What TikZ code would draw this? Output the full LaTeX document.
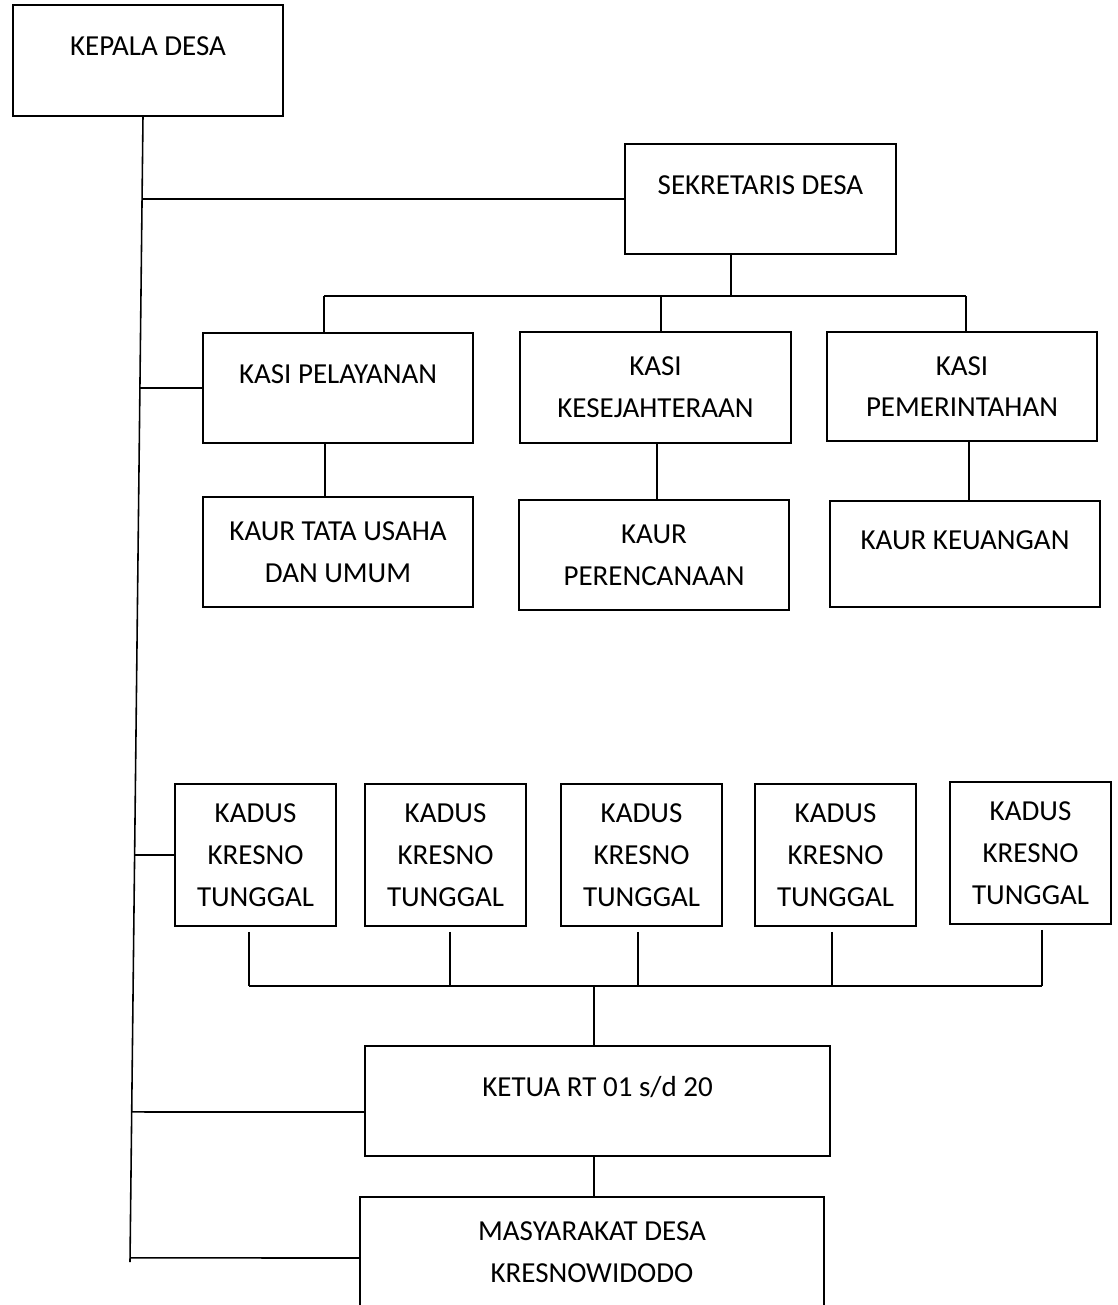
\documentclass[tikz,border=0pt]{standalone}
\usepackage{fontspec}
\setmainfont{Carlito}
\usetikzlibrary{calc}

\begin{document}
\begin{tikzpicture}[x=0.02cm,y=-0.02cm,
  box/.style={draw,line width=1.1pt,inner sep=0pt,align=center,
    font=\fontsize{16.5}{23.8}\selectfont},
  lifted/.style={text height=10.6pt,text depth=16pt},
  conn/.style={line width=0.9pt}]
\useasboundingbox (0,0) rectangle (1118,1305);
\clip (0,0) rectangle (1118,1305);

% kepala desa and the long line on the left
\node[box,lifted,minimum width=5.4cm,minimum height=2.22cm] (kades) at (148,60.5) {KEPALA DESA};
\coordinate (spinetop) at (143,116);
\coordinate (spinebot) at (130,1262);
\draw[conn] (spinetop) -- (spinebot);

% sekretaris
\node[box,lifted,minimum width=5.42cm,minimum height=2.2cm] (sekdes) at (760.5,199) {SEKRETARIS DESA};
\draw[conn] (intersection of spinetop--spinebot and sekdes.west--sekdes.east) -- (sekdes.west);

% kasi
\node[box,lifted,minimum width=5.4cm,minimum height=2.2cm] (kasia) at (338,388) {KASI PELAYANAN};
\node[box,minimum width=5.42cm,minimum height=2.22cm] (kasib) at (655.5,387.5) {KASI\\KESEJAHTERAAN};
\node[box,minimum width=5.4cm,minimum height=2.18cm] (kasic) at (962,386.5) {KASI\\PEMERINTAHAN};

\coordinate (sb) at (731,296);
\coordinate (sb1) at (324,296);
\coordinate (sb2) at (661,296);
\coordinate (sb3) at (966,296);
\draw[conn] (sekdes.south -| sb) -- (sb);
\draw[conn] (sb1) -- (sb3);
\draw[conn] (sb1) -- (sb1 |- kasia.north);
\draw[conn] (sb2) -- (sb2 |- kasib.north);
\draw[conn] (sb3) -- (sb3 |- kasic.north);
\draw[conn] (intersection of spinetop--spinebot and kasia.west--kasia.east) -- (kasia.west);

% kaur
\node[box,minimum width=5.4cm,minimum height=2.2cm] (kaura) at (338,552) {KAUR TATA USAHA\\DAN UMUM};
\node[box,minimum width=5.4cm,minimum height=2.2cm] (kaurb) at (654,555) {KAUR\\PERENCANAAN};
\node[box,lifted,minimum width=5.4cm,minimum height=2.12cm] (kaurc) at (965,554) {KAUR KEUANGAN};

\coordinate (ta) at (325,470);
\coordinate (tb) at (657,470);
\coordinate (tc) at (969,470);
\draw[conn] (kasia.south -| ta) -- (kaura.north -| ta);
\draw[conn] (kasib.south -| tb) -- (kaurb.north -| tb);
\draw[conn] (kasic.south -| tc) -- (kaurc.north -| tc);

% kadus
\node[box,minimum width=3.22cm,minimum height=2.84cm] (kadusa) at (255.5,855) {KADUS\\KRESNO\\TUNGGAL};
\node[box,minimum width=3.22cm,minimum height=2.84cm] (kadusb) at (445.5,855) {KADUS\\KRESNO\\TUNGGAL};
\node[box,minimum width=3.22cm,minimum height=2.84cm] (kadusc) at (641.5,855) {KADUS\\KRESNO\\TUNGGAL};
\node[box,minimum width=3.22cm,minimum height=2.84cm] (kadusd) at (835.5,855) {KADUS\\KRESNO\\TUNGGAL};
\node[box,minimum width=3.22cm,minimum height=2.84cm] (kaduse) at (1030.5,853) {KADUS\\KRESNO\\TUNGGAL};
\draw[conn] (intersection of spinetop--spinebot and kadusa.west--kadusa.east) -- (kadusa.west);

\coordinate (kb1) at (249,986);
\coordinate (kb2) at (450,986);
\coordinate (kb3) at (638,986);
\coordinate (kb4) at (832,986);
\coordinate (kb5) at (1042,986);
\coordinate (kbm) at (594,986);
\draw[conn] ($(kadusa.south -| kb1)+(0,5)$) -- (kb1);
\draw[conn] ($(kadusb.south -| kb2)+(0,5)$) -- (kb2);
\draw[conn] ($(kadusc.south -| kb3)+(0,5)$) -- (kb3);
\draw[conn] ($(kadusd.south -| kb4)+(0,5)$) -- (kb4);
\draw[conn] ($(kaduse.south -| kb5)+(0,5)$) -- (kb5);
\draw[conn] (kb1) -- (kb5);

% rt and masyarakat
\node[box,lifted,minimum width=9.3cm,minimum height=2.2cm] (ketua) at (597.5,1101) {KETUA RT 01 s/d 20};
\node[box,minimum width=9.28cm,minimum height=2.2cm] (masy) at (592,1252) {MASYARAKAT DESA\\KRESNOWIDODO};
\coordinate (rtlink) at ($(ketua.west)+(0,11)$);
\coordinate (rtend) at ($(ketua.east)+(0,11)$);
\coordinate (mslink) at ($(masy.west)+(0,6)$);
\coordinate (msend) at ($(masy.east)+(0,6)$);
\draw[conn] (kbm) -- (ketua.north -| kbm);
\draw[conn] (ketua.south -| kbm) -- (masy.north -| kbm);
\draw[conn] (intersection of spinetop--spinebot and rtlink--rtend) -- (rtlink);
\draw[conn] (intersection of spinetop--spinebot and mslink--msend) -- (mslink);
\end{tikzpicture}
\end{document}
